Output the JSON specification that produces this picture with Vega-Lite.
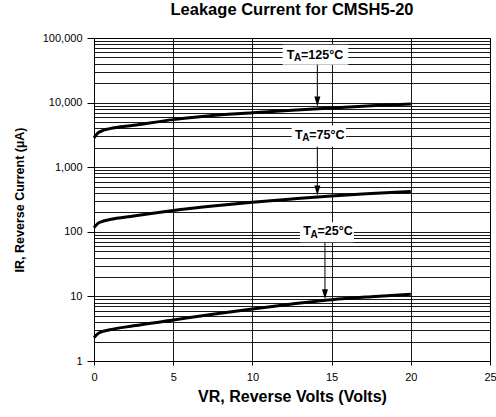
{
  "$schema": "https://vega.github.io/schema/vega-lite/v6.json",
  "autosize": {"type": "none"},
  "padding": {"left": 94, "top": 38, "right": 6, "bottom": 56},
  "width": 396,
  "height": 323,
  "background": "white",
  "title": {"text": "Leakage Current for CMSH5-20", "font": "Liberation Sans", "fontSize": 16.5, "fontWeight": "bold", "color": "black", "anchor": "middle", "offset": 14},
  "config": {
    "view": {"stroke": "black", "strokeWidth": 1},
    "font": "Liberation Sans",
    "axis": {"domainColor": "black", "tickColor": "black", "labelColor": "black", "titleColor": "black", "gridColor": "black", "gridOpacity": 0.9, "labelFont": "Liberation Sans", "titleFont": "Liberation Sans", "labelFontSize": 11, "titleFontWeight": "bold"}
  },
  "datasets": {
    "curves": [
      {"series": "125", "v": 0, "i": 2850}, {"series": "125", "v": 0.25, "i": 3400}, {"series": "125", "v": 0.5, "i": 3650}, {"series": "125", "v": 1, "i": 3950}, {"series": "125", "v": 2.5, "i": 4450}, {"series": "125", "v": 5, "i": 5450}, {"series": "125", "v": 7.5, "i": 6300}, {"series": "125", "v": 10, "i": 6950}, {"series": "125", "v": 12.5, "i": 7620}, {"series": "125", "v": 15, "i": 8280}, {"series": "125", "v": 17.5, "i": 8910}, {"series": "125", "v": 20, "i": 9550},
      {"series": "75", "v": 0, "i": 116}, {"series": "75", "v": 0.25, "i": 135}, {"series": "75", "v": 0.5, "i": 144}, {"series": "75", "v": 1, "i": 155}, {"series": "75", "v": 2.5, "i": 176}, {"series": "75", "v": 5, "i": 214}, {"series": "75", "v": 7.5, "i": 250}, {"series": "75", "v": 10, "i": 286}, {"series": "75", "v": 12.5, "i": 322}, {"series": "75", "v": 15, "i": 359}, {"series": "75", "v": 17.5, "i": 390}, {"series": "75", "v": 20, "i": 421},
      {"series": "25", "v": 0, "i": 2.3}, {"series": "25", "v": 0.25, "i": 2.65}, {"series": "25", "v": 0.5, "i": 2.85}, {"series": "25", "v": 1, "i": 3.05}, {"series": "25", "v": 2.5, "i": 3.5}, {"series": "25", "v": 5, "i": 4.3}, {"series": "25", "v": 7.5, "i": 5.3}, {"series": "25", "v": 10, "i": 6.4}, {"series": "25", "v": 12.5, "i": 7.6}, {"series": "25", "v": 15, "i": 8.9}, {"series": "25", "v": 17.5, "i": 9.9}, {"series": "25", "v": 20, "i": 10.8}
    ],
    "notes": [
      {"lab": "=125°C", "x": 12.17, "y": 55200, "bx1": 11.91, "bx2": 16.05, "by1": 78700, "by2": 38600, "ax": 14.1, "ay1": 38600, "ay2": 10360},
      {"lab": "=75°C", "x": 12.69, "y": 3200, "bx1": 12.48, "bx2": 15.91, "by1": 4410, "by2": 2090, "ax": 14.1, "ay1": 2090, "ay2": 436},
      {"lab": "=25°C", "x": 13.21, "y": 102.5, "bx1": 13.0, "bx2": 16.41, "by1": 140, "by2": 68.6, "ax": 14.58, "ay1": 68.6, "ay2": 10.8}
    ]
  },
  "encoding": {
    "x": {"type": "quantitative", "scale": {"domain": [0, 25], "nice": false, "zero": false}},
    "y": {"type": "quantitative", "scale": {"type": "log", "domain": [1, 100000], "nice": false}}
  },
  "layer": [
    {
      "data": {"name": "curves"},
      "mark": {"type": "line", "color": "black", "strokeWidth": 3, "interpolate": "monotone"},
      "encoding": {
        "x": {"field": "v", "type": "quantitative", "scale": {"domain": [0, 25], "nice": false, "zero": false},
          "axis": {"title": "VR, Reverse Volts (Volts)", "titleFontSize": 16, "values": [0, 2.5, 5, 7.5, 10, 12.5, 15, 17.5, 20, 22.5, 25], "grid": true, "tickSize": 4, "labelPadding": 6, "titlePadding": 6, "labelFlush": false, "labelOverlap": false,
            "labelExpr": "datum.value % 5 == 0 ? datum.label : ''",
            "tickOpacity": {"condition": {"test": "datum.value % 5 != 0", "value": 0}, "value": 1}}},
        "y": {"field": "i", "type": "quantitative", "scale": {"type": "log", "domain": [1, 100000], "nice": false},
          "axis": {"title": "IR, Reverse Current (µA)", "titleFontSize": 12.5, "format": ",", "values": [1,2,3,4,5,6,7,8,9,10,20,30,40,50,60,70,80,90,100,200,300,400,500,600,700,800,900,1000,2000,3000,4000,5000,6000,7000,8000,9000,10000,20000,30000,40000,50000,60000,70000,80000,90000,100000],
            "grid": true, "tickSize": 7, "labelPadding": 5, "titlePadding": 16, "labelOverlap": false, "labelFlush": false,
            "labelExpr": "indexof([1,10,100,1000,10000,100000], datum.value) >= 0 ? datum.label : ''",
            "tickOpacity": {"condition": {"test": "indexof([1,10,100,1000,10000,100000], datum.value) < 0", "value": 0}, "value": 1}}},
        "detail": {"field": "series"}
      }
    },
    {
      "data": {"name": "notes"},
      "mark": {"type": "rect", "fill": "white", "stroke": null},
      "encoding": {
        "x": {"field": "bx1", "type": "quantitative"},
        "x2": {"field": "bx2"},
        "y": {"field": "by1", "type": "quantitative"},
        "y2": {"field": "by2"}
      }
    },
    {
      "data": {"name": "notes"},
      "mark": {"type": "rule", "color": "black", "strokeWidth": 1},
      "encoding": {
        "x": {"field": "ax", "type": "quantitative"},
        "y": {"field": "ay1", "type": "quantitative"},
        "y2": {"field": "ay2"}
      }
    },
    {
      "data": {"name": "notes"},
      "mark": {"type": "point", "shape": "M-0.6,-1L0.6,-1L0,1Z", "filled": true, "color": "black", "size": 100, "opacity": 1},
      "encoding": {
        "x": {"field": "ax", "type": "quantitative"},
        "y": {"field": "ay2", "type": "quantitative"}
      }
    },
    {
      "data": {"name": "notes"},
      "mark": {"type": "text", "text": "T", "align": "left", "baseline": "middle", "fontSize": 12.5, "fontWeight": "bold", "color": "black", "font": "Liberation Sans"},
      "encoding": {
        "x": {"field": "x", "type": "quantitative"},
        "y": {"field": "y", "type": "quantitative"}
      }
    },
    {
      "data": {"name": "notes"},
      "mark": {"type": "text", "text": "A", "align": "left", "baseline": "middle", "dx": 7.3, "dy": 3.5, "fontSize": 10, "fontWeight": "bold", "color": "black", "font": "Liberation Sans"},
      "encoding": {
        "x": {"field": "x", "type": "quantitative"},
        "y": {"field": "y", "type": "quantitative"}
      }
    },
    {
      "data": {"name": "notes"},
      "mark": {"type": "text", "align": "left", "baseline": "middle", "dx": 14.3, "fontSize": 12.5, "fontWeight": "bold", "color": "black", "font": "Liberation Sans"},
      "encoding": {
        "x": {"field": "x", "type": "quantitative"},
        "y": {"field": "y", "type": "quantitative"},
        "text": {"field": "lab"}
      }
    }
  ]
}
